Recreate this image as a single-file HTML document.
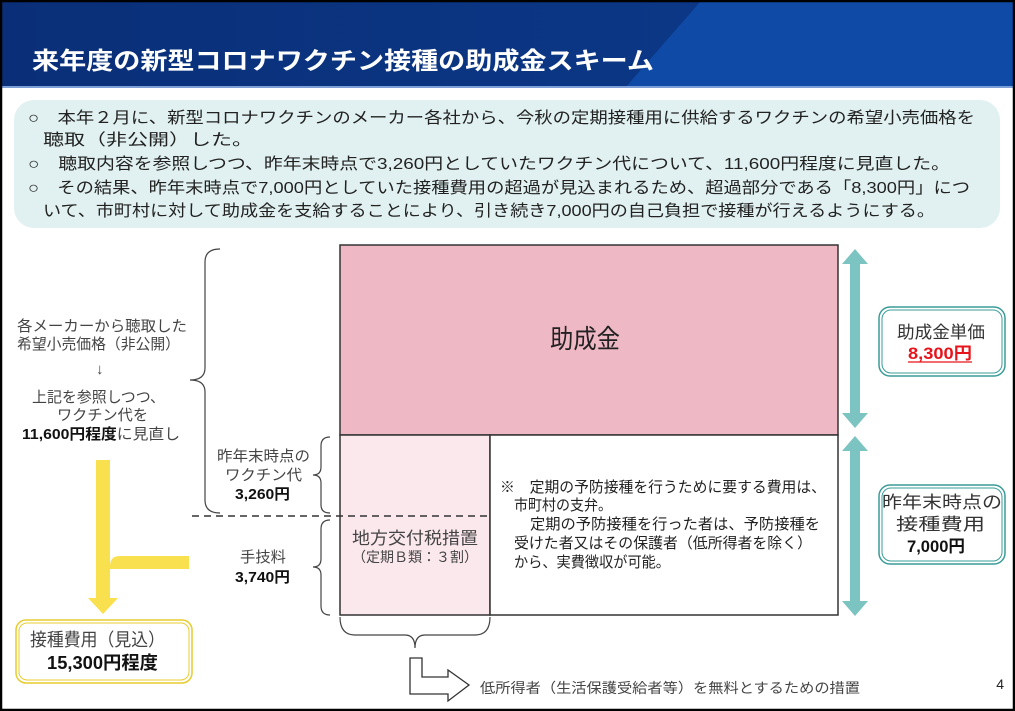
<!DOCTYPE html>
<html><head><meta charset="utf-8"><style>
body{margin:0;width:1015px;height:711px;overflow:hidden;background:#fff}
svg text{font-family:"Liberation Sans","Noto Sans CJK JP",sans-serif}
</style></head><body>
<svg width="1015" height="711" style="position:absolute;left:0;top:0">
<defs><linearGradient id="hg" x1="0" x2="1"><stop offset="0" stop-color="#0a2f78"/><stop offset="1" stop-color="#0c3b8c"/></linearGradient></defs>
<rect x="0" y="0" width="1015" height="711" fill="#fff"/>
<rect x="2" y="2" width="1011" height="86" fill="url(#hg)"/>
<polygon points="700,2 1013,2 1013,88 625,88" fill="#0e4aa6"/>
<rect x="2" y="86" width="1011" height="2" fill="#7d9fd8"/>
<text x="32" y="69" font-size="24" font-weight="bold" fill="#fff" textLength="622" lengthAdjust="spacingAndGlyphs">来年度の新型コロナワクチン接種の助成金スキーム</text>
<rect x="1" y="1" width="1013" height="709" fill="none" stroke="#000" stroke-width="2.5"/>
<rect x="14" y="100" width="986" height="128" rx="20" fill="#e1f1f1"/>
<g font-size="16" fill="#222" lengthAdjust="spacingAndGlyphs">
<text x="28" y="123" textLength="947" lengthAdjust="spacingAndGlyphs">○　本年２月に、新型コロナワクチンのメーカー各社から、今秋の定期接種用に供給するワクチンの希望小売価格を</text>
<text x="43" y="145" textLength="210" lengthAdjust="spacingAndGlyphs">聴取（非公開）した。</text>
<text x="28" y="169" textLength="922" lengthAdjust="spacingAndGlyphs">○　聴取内容を参照しつつ、昨年末時点で3,260円としていたワクチン代について、11,600円程度に見直した。</text>
<text x="28" y="193" textLength="942" lengthAdjust="spacingAndGlyphs">○　その結果、昨年末時点で7,000円としていた接種費用の超過が見込まれるため、超過部分である「8,300円」につ</text>
<text x="43" y="216" textLength="892" lengthAdjust="spacingAndGlyphs">いて、市町村に対して助成金を支給することにより、引き続き7,000円の自己負担で接種が行えるようにする。</text>
</g>
<g stroke="#333" stroke-width="1.5">
<rect x="340" y="245" width="498" height="190" fill="#efb8c5"/>
<rect x="340" y="435" width="150" height="180" fill="#fbe8ed"/>
<rect x="490" y="435" width="348" height="180" fill="#fff"/>
</g>
<line x1="192" y1="516" x2="490" y2="516" stroke="#333" stroke-width="1.5" stroke-dasharray="7,5"/>
<text x="550" y="348" font-size="26" fill="#222" textLength="70" lengthAdjust="spacingAndGlyphs">助成金</text>
<text x="352" y="544" font-size="17" fill="#444" textLength="126" lengthAdjust="spacingAndGlyphs">地方交付税措置</text>
<text x="352" y="562" font-size="14" fill="#444" textLength="126" lengthAdjust="spacingAndGlyphs">（定期Ｂ類：３割）</text>
<g font-size="15" fill="#222">
<text x="500" y="492" textLength="326" lengthAdjust="spacingAndGlyphs">※　定期の予防接種を行うために要する費用は、</text>
<text x="514" y="510" textLength="98" lengthAdjust="spacingAndGlyphs">市町村の支弁。</text>
<text x="530" y="529" textLength="290" lengthAdjust="spacingAndGlyphs">定期の予防接種を行った者は、予防接種を</text>
<text x="514" y="548" textLength="298" lengthAdjust="spacingAndGlyphs">受けた者又はその保護者（低所得者を除く）</text>
<text x="514" y="567" textLength="156" lengthAdjust="spacingAndGlyphs">から、実費徴収が可能。</text>
</g>
<g fill="#7cc4c2">
<rect x="850" y="262" width="10" height="152"/>
<polygon points="855,249 868,264 842,264"/><polygon points="855,428 868,413 842,413"/>
<rect x="850" y="450" width="10" height="152"/>
<polygon points="855,436 868,451 842,451"/><polygon points="855,616 868,601 842,601"/>
</g>
<g fill="#fff" stroke="#3a9c98">
<rect x="879" y="307" width="126" height="69" rx="11" stroke-width="1.5"/>
<rect x="882" y="310" width="120" height="63" rx="9" stroke-width="1"/>
<rect x="879" y="485" width="126" height="79" rx="11" stroke-width="1.5"/>
<rect x="882" y="488" width="120" height="73" rx="9" stroke-width="1"/>
</g>
<text x="897" y="338" font-size="17" fill="#333" textLength="88" lengthAdjust="spacingAndGlyphs">助成金単価</text>
<text x="908" y="359" font-size="17" font-weight="bold" fill="#e8141c" textLength="64" lengthAdjust="spacingAndGlyphs">8,300円</text>
<line x1="908" y1="362" x2="972" y2="362" stroke="#e8141c" stroke-width="1.2"/>
<text x="882" y="508" font-size="17" fill="#333" textLength="120" lengthAdjust="spacingAndGlyphs">昨年末時点の</text>
<text x="896" y="530" font-size="17" fill="#333" textLength="89" lengthAdjust="spacingAndGlyphs">接種費用</text>
<text x="907" y="552" font-size="17" font-weight="bold" fill="#111" textLength="58" lengthAdjust="spacingAndGlyphs">7,000円</text>
<g font-size="15" fill="#444">
<text x="17" y="331" textLength="170" lengthAdjust="spacingAndGlyphs">各メーカーから聴取した</text>
<text x="17" y="349" textLength="163" lengthAdjust="spacingAndGlyphs">希望小売価格（非公開）</text>
<text x="96" y="374">↓</text>
<text x="32" y="402" textLength="133" lengthAdjust="spacingAndGlyphs">上記を参照しつつ、</text>
<text x="57" y="420" textLength="91" lengthAdjust="spacingAndGlyphs">ワクチン代を</text>
<text x="22" y="439" textLength="158" lengthAdjust="spacingAndGlyphs"><tspan font-weight="bold" fill="#111">11,600円程度</tspan>に見直し</text>
<text x="217" y="461" textLength="93" lengthAdjust="spacingAndGlyphs">昨年末時点の</text>
<text x="225" y="480" textLength="77" lengthAdjust="spacingAndGlyphs">ワクチン代</text>
<text x="240" y="562" textLength="46" lengthAdjust="spacingAndGlyphs">手技料</text>
</g>
<g font-size="15" font-weight="bold" fill="#111">
<text x="235" y="499" textLength="55" lengthAdjust="spacingAndGlyphs">3,260円</text>
<text x="235" y="582" textLength="55" lengthAdjust="spacingAndGlyphs">3,740円</text>
</g>
<g fill="none" stroke="#444" stroke-width="1.2">
<path d="M220,249 Q205,249 205,262 L205,368 Q205,380 190,380 Q205,380 205,392 L205,500 Q205,513 220,513"/>
<path d="M330,437 Q321,437 321,446 L321,467 Q321,475 313,475 Q321,475 321,483 L321,505 Q321,513 330,513"/>
<path d="M330,520 Q321,520 321,529 L321,559 Q321,567 313,567 Q321,567 321,575 L321,606 Q321,615 330,615"/>
<path d="M340,617 Q340,635 355,635 L405,635 Q415,635 415,648 Q415,635 425,635 L475,635 Q490,635 490,617"/>
</g>
<path d="M410,658 L422,658 L422,677 L448,677 L448,670 L469,685 L448,701 L448,694 L410,694 Z" fill="#fff" stroke="#333" stroke-width="1.3"/>
<text x="480" y="693" font-size="14" fill="#444" textLength="380" lengthAdjust="spacingAndGlyphs">低所得者（生活保護受給者等）を無料とするための措置</text>
<text x="1004" y="689" font-size="14" fill="#222" text-anchor="end">4</text>
<g fill="#f9e04e">
<rect x="96" y="460" width="14" height="140"/>
<path d="M110,569 L189,569 L189,556 L120,556 Q110,556 110,566 Z"/>
<polygon points="88,598 118,598 103,614"/>
</g>
<g fill="#fff" stroke="#e7cc2e">
<rect x="16" y="620" width="176" height="63" rx="10" stroke-width="1.5"/>
<rect x="19" y="623" width="170" height="57" rx="8" stroke-width="1"/>
</g>
<text x="30" y="646" font-size="18" fill="#444" textLength="135" lengthAdjust="spacingAndGlyphs">接種費用（見込）</text>
<text x="47" y="669" font-size="18" font-weight="bold" fill="#111" textLength="111" lengthAdjust="spacingAndGlyphs">15,300円程度</text>
</svg>
</body></html>
